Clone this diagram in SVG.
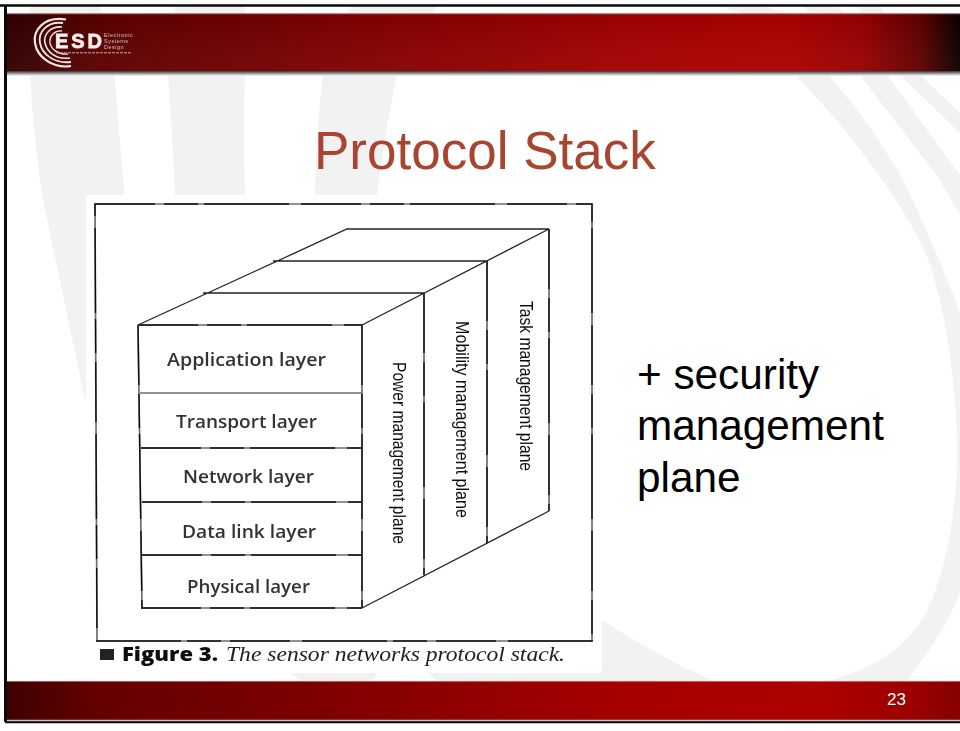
<svg xmlns="http://www.w3.org/2000/svg" width="960" height="731" viewBox="0 0 960 731">
<defs>
<linearGradient id="hdr" x1="0" y1="0" x2="960" y2="0" gradientUnits="userSpaceOnUse">
<stop offset="0" stop-color="#2c0000"/><stop offset="0.1" stop-color="#5a0000"/><stop offset="0.33" stop-color="#7c0000"/><stop offset="0.65" stop-color="#a30000"/><stop offset="0.82" stop-color="#ac0000"/><stop offset="0.9" stop-color="#980000"/><stop offset="0.96" stop-color="#5e0000"/><stop offset="1" stop-color="#080000"/>
</linearGradient>
<linearGradient id="ftr" x1="0" y1="0" x2="960" y2="0" gradientUnits="userSpaceOnUse">
<stop offset="0" stop-color="#3c0000"/><stop offset="0.1" stop-color="#640000"/><stop offset="0.33" stop-color="#7e0000"/><stop offset="0.65" stop-color="#a60000"/><stop offset="0.85" stop-color="#ad0000"/><stop offset="0.95" stop-color="#9c0000"/><stop offset="1" stop-color="#860000"/>
</linearGradient>
<linearGradient id="sheen" x1="0" y1="0" x2="0" y2="1">
<stop offset="0" stop-color="#000" stop-opacity="0.06"/><stop offset="1" stop-color="#fff" stop-opacity="0.04"/>
</linearGradient>
<linearGradient id="shadow" x1="0" y1="0" x2="0" y2="1">
<stop offset="0" stop-color="#333"/><stop offset="1" stop-color="#fff"/>
</linearGradient>
<filter id="scan" x="-5%" y="-5%" width="110%" height="110%"><feGaussianBlur stdDeviation="0.5"/></filter>
<filter id="soft" x="-5%" y="-5%" width="110%" height="110%"><feGaussianBlur stdDeviation="0.35"/></filter>
</defs>
<style>
.wm{fill:#f2f2f2}
.ln{fill:none;stroke:#6e6e6e;stroke-width:1.7}
.ink{fill:none;stroke:#111;stroke-width:1.4;stroke-dasharray:60 9 34 6 85 12}
.dg{fill:none;stroke:#222;stroke-width:1.3}
.lay{font-family:"Open Sans","Liberation Sans",sans-serif;font-weight:600;font-size:17.5px;fill:#333;text-anchor:middle}
.pl{font-family:"Liberation Sans",Arial,sans-serif;font-size:18px;fill:#111}
.body{font-family:"Liberation Sans",Arial,sans-serif;font-size:42.300px;fill:#000}
.arc{fill:none;stroke:#f2e6e6}
.sm{font-family:"Liberation Sans",Arial,sans-serif;font-size:5.5px;fill:#d8c4c4;letter-spacing:.5px}
</style>
<rect width="960" height="731" fill="#fff"/>
<g id="watermark">
<path class="wm" d="M30 6H100L115 75Q118 130 125 195L140 400H85L42 195Q33 130 30 75Z"/>
<path class="wm" d="M175 6H245V75Q243 130 245 195V300H175V195Q172 130 168 75Z"/>
<path class="wm" d="M350 6H437L397 75Q385 130 377 195V300H315V195Q316 130 323 75Z"/>
<path class="wm" d="M717 6H763L790 14H745ZM803 6H837L845 14H810ZM857 6H880L885 14H862Z"/>
<path class="wm" d="M795 75C840 120 895 190 923 247C945 295 957 390 957 447C958 510 945 575 925 615C905 650 870 670 827 681H907C930 650 950 620 960 593V313C950 285 925 225 903 180C880 140 855 105 828 75Z"/>
<path class="wm" d="M860 75L940 180L960 215V175L887 75Z"/>
<path class="wm" d="M900 75L960 133V113L920 75Z"/>
<path class="wm" d="M602 620Q655 655 713 681H602Z"/>
<path class="wm" d="M290 672H378L372 681H300Z"/>
<path class="wm" d="M427 672H602V681H437Z"/>
</g>
<g id="frame">
<path d="M0 5.500H960" stroke="#0a0a0a" stroke-width="2.500" fill="none"/>
<path d="M5.500 5V722" stroke="#0a0a0a" stroke-width="3" fill="none"/>
<path d="M5 722H960" stroke="#0a0a0a" stroke-width="2.500" fill="none"/>
</g>
<g id="header">
<rect x="7" y="71" width="953" height="5" fill="url(#shadow)"/>
<rect x="7" y="13.500" width="953" height="57.500" fill="url(#hdr)"/>
<rect x="7" y="13.500" width="953" height="57.500" fill="url(#sheen)"/>
<path d="M7 13.800H960" stroke="#b08a8a" stroke-width=".8" fill="none"/>
</g>
<g id="logo" filter="url(#soft)">
<path class="arc" stroke-width="2.200" d="M66 19.500C44 16 33 30 35 43C37 57 53 69 71 66"/>
<path class="arc" stroke-width="1.800" d="M63 23C47 21 38 32 40 43C42 54 54 64 71 62"/>
<path class="arc" stroke-width="1.600" d="M62 27C51 26 43 34 45 43C47 52 56 60 70 58"/>
<path class="arc" stroke-width="1.400" d="M62 31C55 30 49 36 50 43C51 49 58 55 68 54"/>
<text x="55" y="48" font-family="Liberation Sans,Arial,sans-serif" font-weight="700" font-size="20px" fill="#f5eeee" stroke="#f5eeee" stroke-width=".8" textLength="47">ESD</text>
<text class="sm" x="104" y="37">Electronic</text>
<text class="sm" x="104" y="43">Systems</text>
<text class="sm" x="104" y="49">Design</text>
<path d="M56 52.800H131" stroke="#c9a9a9" stroke-width="1" stroke-dasharray="3 1" fill="none"/>
</g>
<g id="footer">
<rect x="7" y="681" width="953" height="39" fill="url(#ftr)"/>
<path d="M7 681.300H960" stroke="#cfb5b5" stroke-width=".7" fill="none"/>
<path d="M7 720.500H960" stroke="#c4c4c4" stroke-width="1.500" fill="none"/>
<text x="887" y="705" font-family="Liberation Sans,Arial,sans-serif" font-size="17px" fill="#fff">23</text>
</g>
<text id="title" x="314" y="169" font-family="Liberation Sans,Arial,sans-serif" font-size="53px" fill="#a8452f">Protocol Stack</text>
<g id="note">
<text class="body" x="637" y="389">+ security</text>
<text class="body" x="637" y="440">management</text>
<text class="body" x="637" y="492">plane</text>
</g>
<rect id="figure-sheet" x="86" y="195" width="516" height="478" fill="#fff"/>
<g id="figure" filter="url(#scan)">
<g id="connectors">
<path class="ln" d="M95 204H592V641H97Z"/>
<path class="ink" d="M95 204H592V641H97Z"/>
<path class="ln" d="M138 325H362M140 393H362M141 448H362M142 502H362M142 555H362M141 608H362"/>
<path class="ink" d="M138 325H362M141 448H362M142 502H362M142 555H362M141 608H362"/>
<path class="ln" d="M138 325L142 608M362 325V608M424 293V575M487 261V543M549 229V511"/>
<path class="ink" d="M138 325L142 608M362 325V608M424 293V575M487 261V543M549 229V511"/>
<path class="dg" d="M138 325L347 229H549L362 325M203 293H424M273 261H487M362 608L549 511"/>
</g>
<g id="layer-application"><text class="lay" x="246.500" y="365.500" textLength="159" lengthAdjust="spacingAndGlyphs">Application layer</text></g>
<g id="layer-transport"><text class="lay" x="246.500" y="428" textLength="141" lengthAdjust="spacingAndGlyphs">Transport layer</text></g>
<g id="layer-network"><text class="lay" x="248.500" y="483" textLength="131" lengthAdjust="spacingAndGlyphs">Network layer</text></g>
<g id="layer-datalink"><text class="lay" x="249" y="538" textLength="134" lengthAdjust="spacingAndGlyphs">Data link layer</text></g>
<g id="layer-physical"><text class="lay" x="248.500" y="593" textLength="123" lengthAdjust="spacingAndGlyphs">Physical layer</text></g>
<g id="plane-power"><text class="pl" transform="translate(393 362) rotate(90)" textLength="182" lengthAdjust="spacingAndGlyphs">Power management plane</text></g>
<g id="plane-mobility"><text class="pl" transform="translate(456 321) rotate(90)" textLength="197" lengthAdjust="spacingAndGlyphs">Mobility management plane</text></g>
<g id="plane-task"><text class="pl" transform="translate(520 301) rotate(90)" textLength="170" lengthAdjust="spacingAndGlyphs">Task management plane</text></g>
<g id="caption">
<rect x="100" y="649" width="14" height="11" fill="#222"/>
<text x="122" y="661" font-family="Open Sans,Liberation Sans,sans-serif" font-weight="800" font-size="19px" fill="#111" textLength="96" lengthAdjust="spacingAndGlyphs">Figure 3.</text>
<text x="226" y="661" font-family="Liberation Serif,Times New Roman,serif" font-style="italic" font-size="21px" fill="#222" textLength="339" lengthAdjust="spacingAndGlyphs">The sensor networks protocol stack.</text>
</g>
</g>
</svg>
